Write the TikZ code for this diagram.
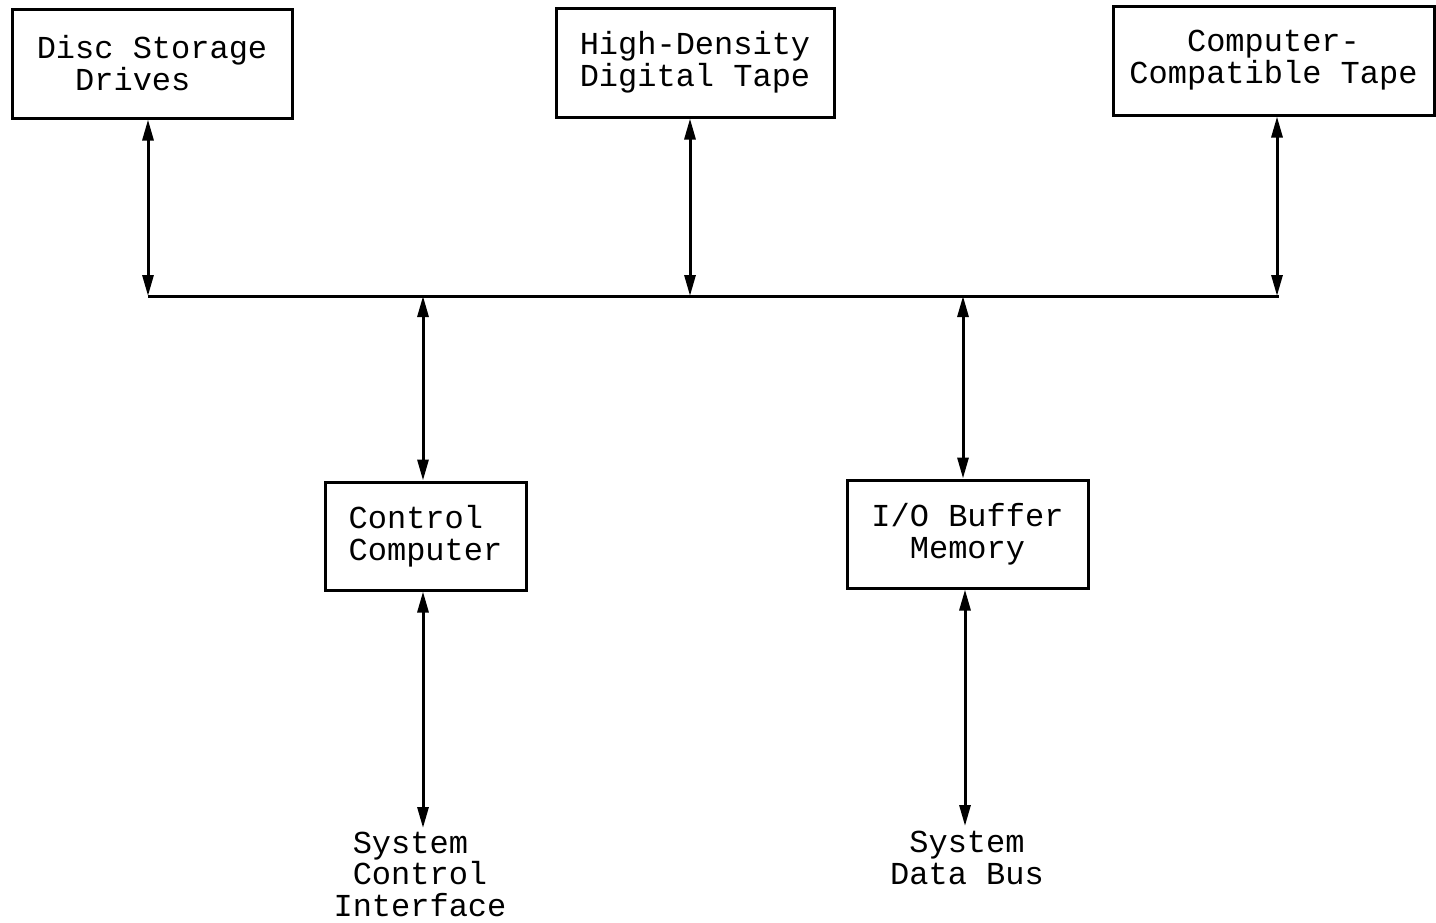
\documentclass[tikz,border=0pt]{standalone}
\usepackage{fontspec}
\setmonofont{Liberation Mono}
\usetikzlibrary{arrows.meta}
\tikzset{
  box/.style={draw, line width=3pt, inner sep=0pt, font=\ttfamily\fontsize{32}{32}\selectfont},
  lbl/.style={inner sep=0pt, font=\ttfamily\fontsize{32}{31.5}\selectfont},
  arr/.style={line width=3pt, {Triangle[length=21pt,width=11pt]}-{Triangle[length=21pt,width=11pt]}},
  busline/.style={line width=3pt}
}
\begin{document}
\begin{tikzpicture}[x=1pt,y=-1pt]
\useasboundingbox (0,0) rectangle (1436,922);
\node[box, minimum width=280pt, minimum height=109pt, align=left] (disc) at (152,63.5) {Disc Storage\\\hphantom{XX}Drives};
\node[box, minimum width=278pt, minimum height=109pt, align=center] (hddt) at (695,62.5) {High-Density\\Digital Tape};
\node[box, minimum width=321pt, minimum height=109pt, align=center] (cct) at (1273.5,60.5) {Computer-\\Compatible Tape};
\node[box, minimum width=201pt, minimum height=108pt, align=left] (cc) at (425.5,536) {Control\\Computer};
\node[box, minimum width=241pt, minimum height=108pt, align=center] (io) at (967.5,534) {I/O Buffer\\Memory};
\node[lbl, align=left] (sci) at (420,874) {\hphantom{X}System\\\hphantom{X}Control\\Interface};
\node[lbl, align=center] (sdb) at (967,858) {System\\Data Bus};
\coordinate (j1) at (148,296);
\coordinate (j2) at (690,296);
\coordinate (j3) at (1277,296);
\coordinate (j4) at (423,296);
\coordinate (j5) at (963,296);
\coordinate (busR) at (1279,296);
\coordinate (t1) at (423,828);
\coordinate (t2) at (965,826);
\draw[busline] (j1) -- (busR);
\draw[arr] (j1 |- disc.south) -- (j1);
\draw[arr] (j2 |- hddt.south) -- (j2);
\draw[arr] (j3 |- cct.south) -- (j3);
\draw[arr] (j4) -- (j4 |- cc.north);
\draw[arr] (j5) -- (j5 |- io.north);
\draw[arr] (t1 |- cc.south) -- (t1);
\draw[arr] (t2 |- io.south) -- (t2);
\end{tikzpicture}
\end{document}
